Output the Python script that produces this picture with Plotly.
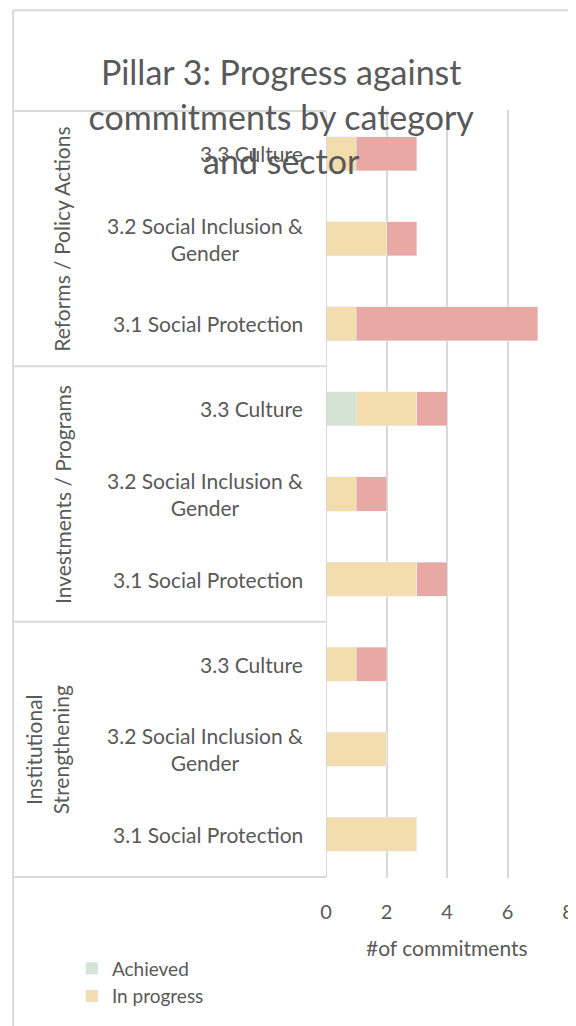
import plotly.graph_objects as go

# Data (top to bottom as drawn)
groups = ["Reforms / Policy Actions", "Investments / Programs", "Institutional<br>Strengthening"]
sectors = ["3.3 Culture", "3.2 Social Inclusion &<br>Gender", "3.1 Social Protection"]

achieved = [0, 0, 0, 1, 0, 0, 0, 0, 0]
in_progress = [1, 2, 1, 2, 1, 3, 1, 2, 3]
not_started = [2, 1, 6, 1, 1, 1, 1, 0, 0]

x_ticks = [0, 2, 4, 6, 8]

# unique row keys so repeated sector names stay separate
rows = [f"{g}|{s}" for g in groups for s in sectors]

grey = "#595959"
line_col = "#d9d9d9"
font = "Lato"

fig = go.Figure()
fig.add_trace(go.Bar(y=rows, x=achieved, orientation="h", name="Achieved",
                     marker_color="#d5e3d5", width=0.4))
fig.add_trace(go.Bar(y=rows, x=in_progress, orientation="h", name="In progress",
                     marker_color="#f3dcae", width=0.4))
fig.add_trace(go.Bar(y=rows, x=not_started, orientation="h", name="Not started",
                     marker_color="#e8a8a4", width=0.4, showlegend=False))

# sector labels (centered multi-line, right aligned to axis)
annotations = []
for r in rows:
    annotations.append(dict(x=0, y=r, xref="x", yref="y", text=r.split("|")[1],
                            xanchor="right", xshift=-21, showarrow=False, align="center",
                            font=dict(size=21, color=grey, family=font)))

# group labels, rotated
for i, g in enumerate(groups):
    annotations.append(dict(x=-1.153 if "<br>" in g else -1.091, y=rows[i * 3 + 1],
                            xref="paper", yref="y", text=g, textangle=-90,
                            showarrow=False, xanchor="center", yanchor="middle",
                            font=dict(size=21, color=grey, family=font)))

annotations.append(dict(x=0.5, y=-0.091, xref="paper", yref="paper",
                        text="#of commitments", showarrow=False, yanchor="middle",
                        font=dict(size=21, color=grey, family=font)))

# group box lines
shapes = []
for yb in [-0.5, 2.5, 5.5, 8.5]:
    shapes.append(dict(type="line", xref="paper", yref="y", x0=-1.293, x1=0,
                       y0=yb, y1=yb, line=dict(color=line_col, width=2)))
shapes.append(dict(type="line", xref="x", yref="y", x0=0, x1=0, y0=-0.5, y1=8.5,
                   line=dict(color=line_col, width=2)))
# chart border (left and top)
shapes.append(dict(type="line", xref="paper", yref="paper", x0=-1.293, x1=-1.293,
                   y0=1.13, y1=-0.2, line=dict(color=line_col, width=2)))
shapes.append(dict(type="line", xref="paper", yref="paper", x0=-1.293, x1=1.1,
                   y0=1.13, y1=1.13, line=dict(color=line_col, width=2)))

fig.update_layout(
    width=568, height=1018,
    margin=dict(l=318, r=8, t=102, b=148, autoexpand=False),
    barmode="stack",
    plot_bgcolor="white", paper_bgcolor="white",
    font=dict(family=font, color=grey),
    title=dict(text="Pillar 3: Progress against<br>commitments by category<br>and sector",
               x=0.481, xanchor="center", y=0.924, yanchor="middle", yref="container",
               font=dict(size=34, color=grey, family=font)),
    xaxis=dict(range=[0, 8], tickvals=x_ticks, showgrid=True, gridcolor=line_col,
               gridwidth=2, zeroline=False, showline=False, ticks="",
               tickfont=dict(size=20, color=grey), ticklabelstandoff=20),
    yaxis=dict(autorange="reversed", showticklabels=False, showgrid=False,
               zeroline=False, showline=False, ticks=""),
    legend=dict(x=-1.05, y=-0.093, xanchor="left", yanchor="top",
                font=dict(size=19, color=grey), traceorder="normal",
                itemwidth=30, tracegroupgap=0),
    annotations=annotations,
    shapes=shapes,
)

fig.write_html("out.html")
